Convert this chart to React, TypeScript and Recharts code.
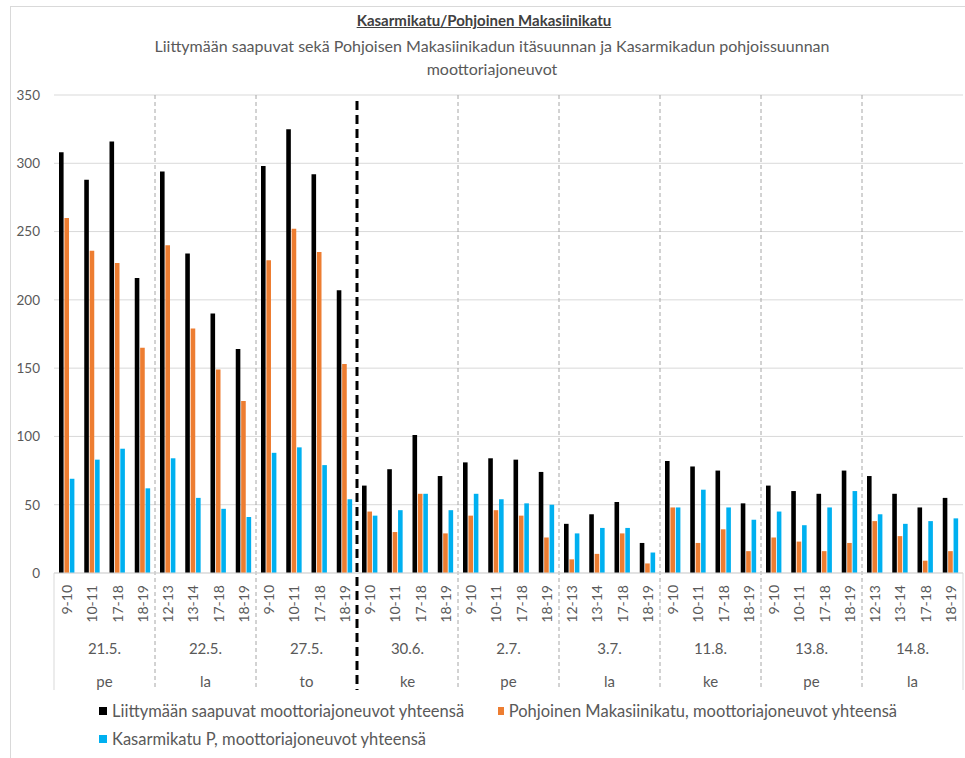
import React from 'react';
import { BarChart, Bar, XAxis, YAxis, CartesianGrid, ReferenceLine, Legend } from 'recharts';

const dates = ['21.5.', '22.5.', '27.5.', '30.6.', '2.7.', '3.7.', '11.8.', '13.8.', '14.8.'];
const weekdays = ['pe', 'la', 'to', 'ke', 'pe', 'la', 'ke', 'pe', 'la'];
const hours = [
  '9-10', '10-11', '17-18', '18-19',
  '12-13', '13-14', '17-18', '18-19',
  '9-10', '10-11', '17-18', '18-19',
  '9-10', '10-11', '17-18', '18-19',
  '9-10', '10-11', '17-18', '18-19',
  '12-13', '13-14', '17-18', '18-19',
  '9-10', '10-11', '17-18', '18-19',
  '9-10', '10-11', '17-18', '18-19',
  '12-13', '13-14', '17-18', '18-19',
];
const totalVehicles = [
  308, 288, 316, 216,
  294, 234, 190, 164,
  298, 325, 292, 207,
  64, 76, 101, 71,
  81, 84, 83, 74,
  36, 43, 52, 22,
  82, 78, 75, 51,
  64, 60, 58, 75,
  71, 58, 48, 55,
];
const pohjoinenVehicles = [
  260, 236, 227, 165,
  240, 179, 149, 126,
  229, 252, 235, 153,
  45, 30, 58, 29,
  42, 46, 42, 26,
  10, 14, 29, 7,
  48, 22, 32, 16,
  26, 23, 16, 22,
  38, 27, 9, 16,
];
const kasarmikatuVehicles = [
  69, 83, 91, 62,
  84, 55, 47, 41,
  88, 92, 79, 54,
  42, 46, 58, 46,
  58, 54, 51, 50,
  29, 33, 33, 15,
  48, 61, 48, 39,
  45, 35, 48, 60,
  43, 36, 38, 40,
];
const yTicks = [0, 50, 100, 150, 200, 250, 300, 350];
const seriesNames = [
  'Liittymään saapuvat moottoriajoneuvot yhteensä',
  'Pohjoinen Makasiinikatu, moottoriajoneuvot yhteensä',
  'Kasarmikatu P, moottoriajoneuvot yhteensä',
];
const seriesColors = ['#000000', '#ED7D31', '#00B0F0'];
const titleText = 'Kasarmikatu/Pohjoinen Makasiinikatu';
const subtitleLines = [
  'Liittymään saapuvat sekä Pohjoisen Makasiinikadun itäsuunnan ja Kasarmikadun pohjoissuunnan',
  'moottoriajoneuvot',
];
const GROUP_SIZE = 4;
const SPLIT_GROUP = 3; // thick dashed line before 30.6.

const data = hours.map((h, i) => {
  const g = Math.floor(i / GROUP_SIZE);
  return {
    key: `${dates[g]} ${h}`,
    hour: h,
    day: `${dates[g]}|${weekdays[g]}`,
    total: totalVehicles[i],
    pohjoinen: pohjoinenVehicles[i],
    kasarmikatu: kasarmikatuVehicles[i],
  };
});

const FONT = 'Lato, "Open Sans", sans-serif';
const TEXT = '#595959';
const GRID = '#d9d9d9';
const CHART_W = 965;
const CHART_H = 758;
const HOUR_AXIS_H = 50;
const DAY_AXIS_H = 67;
const EXT = HOUR_AXIS_H + DAY_AXIS_H;
const HOUR_ID = 'a1hour';
const DAY_ID = 'b2day';

const HourTick = (props: any) => {
  const { x, y, index } = props;
  const label = data[index] ? data[index].hour : '';
  return (
    <text
      x={x}
      y={y + 12}
      transform={`rotate(-90, ${x}, ${y + 12})`}
      textAnchor="end"
      dominantBaseline="central"
      fill={TEXT}
      fontSize={14}
      fontFamily={FONT}
    >
      {label}
    </text>
  );
};

const DayTick = (props: any) => {
  const { x, y, payload } = props;
  const [d, w] = String(payload.value).split('|');
  return (
    <g>
      <text x={x} y={y + 25} textAnchor="middle" dominantBaseline="central" fill={TEXT} fontSize={15} fontFamily={FONT}>
        {d}
      </text>
      <text x={x} y={y + 58} textAnchor="middle" dominantBaseline="central" fill={TEXT} fontSize={15} fontFamily={FONT}>
        {w}
      </text>
    </g>
  );
};

const makeDivider = (stroke: string, width: number, dash: string | undefined, mode: 'full' | 'below', topInset = 0) =>
  (props: any) => {
    const { x1, y1, x2, y2 } = props;
    const top = Math.min(y1, y2);
    const bottom = Math.max(y1, y2);
    const startY = mode === 'full' ? top + topInset : bottom;
    return (
      <line
        x1={x1}
        x2={x2}
        y1={startY}
        y2={bottom + EXT}
        stroke={stroke}
        strokeWidth={width}
        strokeDasharray={dash}
      />
    );
  };

const LegendContent = (props: any) => {
  const payload = [...(props.payload || [])].sort(
    (a: any, b: any) => seriesNames.indexOf(a.value) - seriesNames.indexOf(b.value)
  );
  return (
    <div
      style={{
        display: 'flex',
        flexWrap: 'wrap',
        paddingLeft: 99,
        fontFamily: FONT,
        fontSize: 16.5,
        color: TEXT,
      }}
    >
      {payload.map((p: any) => (
        <div
          key={p.value}
          style={{ width: 399, height: 28, display: 'flex', alignItems: 'center', whiteSpace: 'nowrap' }}
        >
          <span style={{ display: 'inline-block', width: 8, height: 8, background: p.color, marginRight: 5 }} />
          <span>{p.value}</span>
        </div>
      ))}
    </div>
  );
};

export default function App() {
  const groupStarts = data.filter((_, i) => i % GROUP_SIZE === 0 && i > 0);
  return (
    <div
      style={{
        position: 'absolute',
        left: 0,
        top: 0,
        width: CHART_W,
        height: CHART_H,
        overflow: 'hidden',
        background: '#fff',
        fontFamily: FONT,
      }}
    >
      <div
        style={{
          position: 'absolute',
          left: 10,
          top: 6,
          width: 1100,
          height: 900,
          border: `1px solid ${GRID}`,
          boxSizing: 'border-box',
        }}
      />
      <div
        style={{
          position: 'absolute',
          left: 0,
          width: 968,
          top: 10,
          textAlign: 'center',
          fontWeight: 700,
          fontSize: 15,
          color: '#404040',
          textDecoration: 'underline',
          lineHeight: '20px',
        }}
      >
        {titleText}
      </div>
      {subtitleLines.map((line, i) => (
        <div
          key={i}
          style={{
            position: 'absolute',
            left: 0,
            width: 984,
            top: 35 + i * 23,
            textAlign: 'center',
            fontSize: 16,
            color: TEXT,
            lineHeight: '22px',
          }}
        >
          {line}
        </div>
      ))}
      <div style={{ position: 'absolute', left: 0, top: 0 }}>
        <BarChart
          width={CHART_W}
          height={CHART_H}
          data={data}
          margin={{ top: 95, right: 2, left: 0, bottom: CHART_H - 95 - 478 - EXT }}
          barGap={0.8}
          barSize={4.6}
        >
          <CartesianGrid vertical={false} stroke={GRID} strokeWidth={1} xAxisId={HOUR_ID} />
          <YAxis
            domain={[0, 350]}
            ticks={yTicks}
            width={54}
            axisLine={false}
            tickLine={false}
            tickSize={0}
            tickMargin={14}
            tick={{ fill: TEXT, fontSize: 13.5, fontFamily: FONT }}
          />
          <XAxis
            xAxisId={DAY_ID}
            dataKey="day"
            allowDuplicatedCategory={false}
            height={DAY_AXIS_H}
            interval={0}
            tickLine={false}
            tickSize={0}
            tickMargin={0}
            axisLine={false}
            tick={<DayTick />}
          />
          <XAxis
            xAxisId={HOUR_ID}
            dataKey="key"
            height={HOUR_AXIS_H}
            interval={0}
            tickLine={false}
            tickSize={0}
            tickMargin={0}
            axisLine={{ stroke: GRID }}
            tick={<HourTick />}
          />
          <Bar xAxisId={HOUR_ID} dataKey="total" name={seriesNames[0]} fill={seriesColors[0]} isAnimationActive={false} />
          <Bar xAxisId={HOUR_ID} dataKey="pohjoinen" name={seriesNames[1]} fill={seriesColors[1]} isAnimationActive={false} />
          <Bar xAxisId={HOUR_ID} dataKey="kasarmikatu" name={seriesNames[2]} fill={seriesColors[2]} isAnimationActive={false} />
          <ReferenceLine
            xAxisId={HOUR_ID}
            x={data[0].key}
            position="start"
            stroke={GRID}
            shape={makeDivider(GRID, 1, undefined, 'below')}
          />
          <ReferenceLine
            xAxisId={HOUR_ID}
            x={data[data.length - 1].key}
            position="end"
            stroke={GRID}
            shape={makeDivider(GRID, 1, undefined, 'below')}
          />
          {groupStarts.map((d, i) =>
            i + 1 === SPLIT_GROUP ? (
              <ReferenceLine
                key={d.key}
                xAxisId={HOUR_ID}
                x={d.key}
                position="start"
                stroke="#000"
                shape={makeDivider('#000', 3, '9 5', 'full', 6)}
              />
            ) : (
              <ReferenceLine
                key={d.key}
                xAxisId={HOUR_ID}
                x={d.key}
                position="start"
                stroke="#a6a6a6"
                shape={makeDivider('#a6a6a6', 1, '4 3', 'full')}
              />
            )
          )}
          <Legend
            layout="horizontal"
            verticalAlign="middle"
            align="center"
            wrapperStyle={{ top: 697, left: 0, width: CHART_W, height: 60 }}
            content={<LegendContent />}
          />
        </BarChart>
      </div>
    </div>
  );
}
